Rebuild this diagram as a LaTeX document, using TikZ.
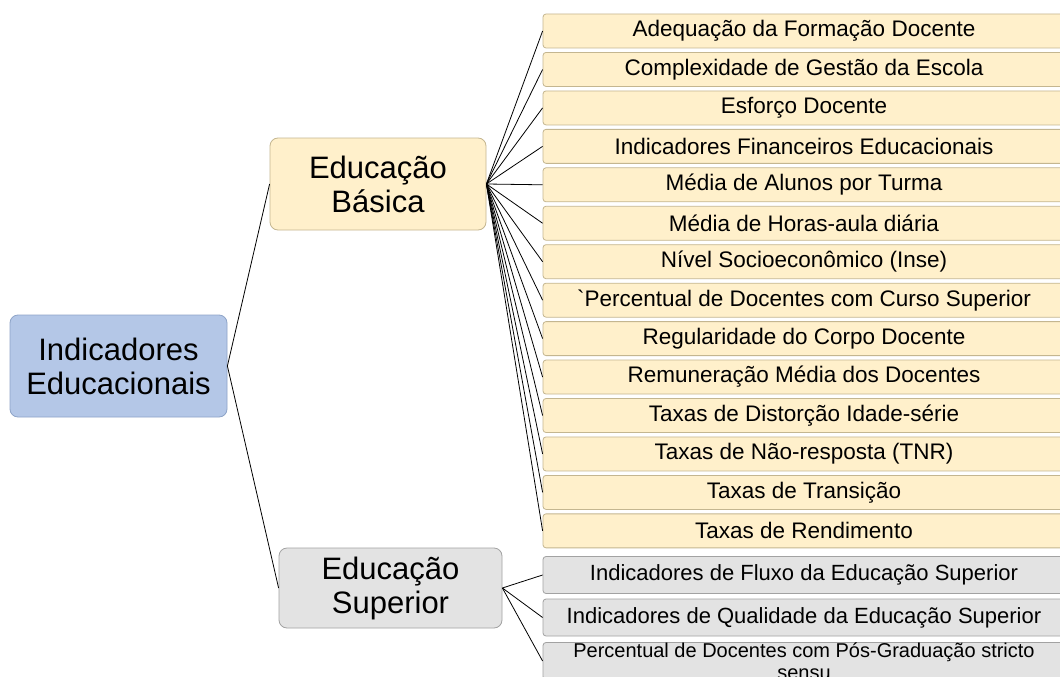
\documentclass[tikz,border=0pt]{standalone}
\usepackage{fontspec}
\setmainfont{Liberation Sans}
\definecolor{rootfill}{HTML}{B4C7E7}
\definecolor{rootdraw}{HTML}{8EA4C8}
\definecolor{yfill}{HTML}{FFF0CB}
\definecolor{ydraw}{HTML}{C4B690}
\definecolor{gfill}{HTML}{E3E3E3}
\definecolor{gdraw}{HTML}{A2A2A2}
\tikzset{
  mainbox/.style={rounded corners=8pt, line width=0.8pt, inner sep=0pt, align=center, font=\fontsize{31}{34}\selectfont},
  rootbox/.style={mainbox, fill=rootfill, draw=rootdraw, minimum width=217pt, minimum height=102pt},
  basbox/.style={mainbox, fill=yfill, draw=ydraw, minimum width=216pt, minimum height=92pt},
  supbox/.style={mainbox, fill=gfill, draw=gdraw, minimum width=223pt, minimum height=80pt},
  leafY/.style={rounded corners=3pt, line width=0.8pt, inner sep=0pt, fill=yfill, draw=ydraw, minimum width=522pt, minimum height=34pt, font=\fontsize{22.5}{24}\selectfont},
  leafG/.style={rounded corners=3pt, line width=0.8pt, inner sep=0pt, fill=gfill, draw=gdraw, minimum width=522pt, minimum height=37pt, align=center, font=\fontsize{22}{24}\selectfont},
  link/.style={line width=0.8pt, black}
}
\begin{document}
\begin{tikzpicture}[x=1pt,y=-1pt]
\clip (0,0) rectangle (1060,677);
\fill[white] (0,0) rectangle (1060,677);
\node[rootbox] (root) at (118.5,366) {Indicadores\\Educacionais};
\node[basbox] (bas) at (378,184) {Educação\\Básica};
\node[supbox] (sup) at (390.5,588) {Educação\\Superior};
\foreach \t [count=\i] in {
  Adequação da Formação Docente,
  Complexidade de Gestão da Escola,
  Esforço Docente,
  Indicadores Financeiros Educacionais,
  Média de Alunos por Turma,
  Média de Horas-aula diária,
  Nível Socioeconômico (Inse),
  \textasciigrave Percentual de Docentes com Curso Superior,
  Regularidade do Corpo Docente,
  Remuneração Média dos Docentes,
  Taxas de Distorção Idade-série,
  Taxas de Não-resposta (TNR),
  Taxas de Transição,
  Taxas de Rendimento}
{
  \node[leafY] (b\i) at (804,{31+(\i-1)*38.45}) {\t};
  \draw[link] (bas.east) -- (b\i.west);
}
\node[leafG] (s1) at (804,575) {Indicadores de Fluxo da Educação Superior};
\node[leafG] (s2) at (804,617.5) {Indicadores de Qualidade da Educação Superior};
\node[leafG, font=\fontsize{20}{22}\selectfont] (s3) at (804,661) {Percentual de Docentes com Pós-Graduação stricto\\sensu};
\foreach \j in {1,2,3} \draw[link] (sup.east) -- (s\j.west);
\draw[link] (root.east) -- (bas.west);
\draw[link] (root.east) -- (sup.west);
\end{tikzpicture}
\end{document}
